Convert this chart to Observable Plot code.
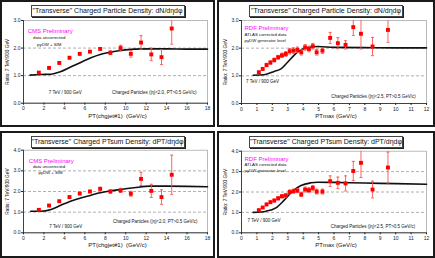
<!DOCTYPE html>
<html><head><meta charset="utf-8">
<script src="https://cdn.jsdelivr.net/npm/d3@7"></script>
<script src="https://cdn.jsdelivr.net/npm/@observablehq/plot@0.6"></script>
<style>
body{margin:0;background:#fff;font-family:"Liberation Sans",Arial,sans-serif;}
#root{position:relative;width:435px;height:258px;overflow:hidden;background:#fff;}
.panel{position:absolute;box-sizing:border-box;border:2px solid #1a1a1a;background:#fff;overflow:hidden;}
.panel svg{position:absolute;left:0;top:0;}
.title{position:absolute;box-sizing:border-box;height:12px;border:1px solid #444;box-shadow:1px 1px 0 #222;background:#fff;font-size:7px;line-height:10px;text-align:center;white-space:nowrap;color:#111;}
</style></head><body><div id="root"></div>
<script>
// ---------- data ----------
const cmsX = [1.5,2.5,3.5,4.5,5.5,6.5,7.5,8.5,9.5,10.5,11.5,12.5,13.5,14.5];
const p1Y   = [1.11,1.28,1.46,1.65,1.79,1.87,1.97,1.83,2.00,1.79,2.20,1.77,1.67,2.71];
const p1Err = [0.03,0.03,0.03,0.04,0.04,0.04,0.05,0.07,0.10,0.12,0.25,0.23,0.27,0.57];
const p1CurveX = [0.65,1.7,2.7,3.6,4.6,5.6,6.6,7.5,8.5,9.5,10.8,12.4,14,16,18];
const p1CurveY = [1.02,1.04,1.05,1.14,1.31,1.48,1.65,1.77,1.85,1.91,1.96,1.97,1.97,1.96,1.96];

const p3Y   = [1.11,1.32,1.53,1.73,1.90,2.00,2.13,2.00,2.05,1.89,2.61,2.03,1.73,2.81];
const p3Err = [0.04,0.04,0.04,0.05,0.05,0.06,0.07,0.08,0.10,0.12,0.32,0.32,0.35,0.95];
const p3CurveX = [0.7,1.7,2.7,3.6,4.6,5.6,6.6,7.5,8.5,9.5,10.8,12.4,14,16,18];
const p3CurveY = [1.04,1.04,1.13,1.32,1.53,1.69,1.82,1.94,2.03,2.10,2.18,2.26,2.26,2.25,2.23];

const rdfX = [1.125,1.375,1.625,1.875,2.125,2.375,2.625,2.875,3.125,3.375,3.625,3.875,4.125,4.375,4.625,4.875,5.25,5.75,6.25,6.75,7.25,7.75,8.5,9.5];
const p2Y   = [1.13,1.25,1.39,1.48,1.57,1.67,1.74,1.79,1.89,1.91,1.94,1.85,2.03,1.97,2.07,1.85,1.91,2.37,2.18,2.12,2.76,2.52,2.06,2.66];
const p2Err = [0.04,0.05,0.06,0.06,0.07,0.07,0.08,0.09,0.10,0.10,0.10,0.10,0.10,0.10,0.10,0.10,0.10,0.20,0.20,0.15,0.30,0.55,0.33,0.45];
const p2CurveX = [0.76,1.47,2.12,2.56,2.99,3.42,3.86,4.29,4.94,6,8,10,12];
const p2CurveY = [1.02,1.04,1.16,1.25,1.49,1.75,1.94,2.02,2.06,2.03,2.02,2.01,2.01];

const p4Y   = [1.11,1.24,1.39,1.50,1.58,1.69,1.79,1.83,2.00,2.04,2.07,1.88,2.12,2.09,2.20,2.02,2.02,2.53,2.45,2.42,3.03,3.43,2.12,3.20];
const p4Err = [0.04,0.05,0.06,0.06,0.07,0.08,0.08,0.09,0.10,0.10,0.10,0.10,0.12,0.12,0.12,0.12,0.12,0.26,0.28,0.37,0.47,0.72,0.41,0.76];
const p4CurveX = [0.76,1.6,2.23,2.77,3.31,3.86,4.5,4.94,6,8,10,12];
const p4CurveY = [1.00,1.06,1.22,1.60,2.04,2.32,2.45,2.48,2.47,2.44,2.41,2.38];

const cmsXTicks = [0,2,4,6,8,10,12,14,16,18];
const rdfXTicks = [0,1,2,3,4,5,6,7,8,9,10,11,12];
const yTicks3 = [0,1,2,3];
const yTicks4 = [0,1,2,3,4];
const grid3 = [1,2];
const grid4 = [1,2,3];

const titleDensity = "\"Transverse\" Charged Particle Density: dN/dηdφ";
const titlePTsum = "\"Transverse\" Charged PTsum Density: dPT/dηdφ";
const yLabel = "Ratio: 7 TeV/900 GeV";
const xLabelCMS = "PT(chgjet#1)  (GeV/c)";
const xLabelRDF = "PTmax (GeV/c)";
const cmsNotes = ["CMS Preliminary", "data uncorrected", "pyDW + SIM"];
const rdfNotes = ["RDF Preliminary", "ATLAS corrected data", "pyDW generator level"];
const energyNote = "7 TeV / 900 GeV";
const cutsCMS = "Charged Particles (|η|<2.0, PT>0.5 GeV/c)";
const cutsRDF = "Charged Particles (|η|<2.5, PT>0.5 GeV/c)";

// ---------- layout ----------
const panels = [
  {left:0, top:0, w:215, h:127, cw:211, ch:123, ml:21, mr:6, mt:18, mb:22.3,
   x:cmsX, y:p1Y, err:p1Err, cx:p1CurveX, cy:p1CurveY, xDomain:[0,18], yDomain:[0,3],
   xTicks:cmsXTicks, yTicks:yTicks3, grid:grid3, title:titleDensity, xLabel:xLabelCMS, cms:true,
   notePos:[[26.7,8],[25.7,15],[25.7,22]], energyPos:[41.7,70.7], cutsPos:[130.7,70.7], cuts:cutsCMS},
  {left:217, top:0, w:218, h:127, cw:214, ch:123, ml:22, mr:7, mt:18, mb:22,
   x:rdfX, y:p2Y, err:p2Err, cx:p2CurveX, cy:p2CurveY, xDomain:[0,12], yDomain:[0,3],
   xTicks:rdfXTicks, yTicks:yTicks3, grid:grid3, title:titleDensity, xLabel:xLabelRDF, cms:false,
   notePos:[[3,5],[3,12],[3,18]], energyPos:[21,59], cutsPos:[132,74], cuts:cutsRDF},
  {left:0, top:131, w:215, h:127, cw:211, ch:123, ml:21, mr:6, mt:16.7, mb:23.7,
   x:cmsX, y:p3Y, err:p3Err, cx:p3CurveX, cy:p3CurveY, xDomain:[0,18], yDomain:[0,4],
   xTicks:cmsXTicks, yTicks:yTicks4, grid:grid4, title:titlePTsum, xLabel:xLabelCMS, cms:true,
   notePos:[[27.8,8.3],[25.5,14.3],[27,20.3]], energyPos:[42.3,74.3], cutsPos:[131.8,69.3], cuts:cutsCMS},
  {left:217, top:131, w:218, h:127, cw:214, ch:123, ml:22, mr:7, mt:17.7, mb:23.7,
   x:rdfX, y:p4Y, err:p4Err, cx:p4CurveX, cy:p4CurveY, xDomain:[0,12], yDomain:[0,4],
   xTicks:rdfXTicks, yTicks:yTicks4, grid:grid4, title:titlePTsum, xLabel:xLabelRDF, cms:false,
   notePos:[[3,5.3],[3,11.3],[3,17.3]], energyPos:[22.5,67.3], cutsPos:[131.5,73.3], cuts:cutsRDF}
];

const capSymbol = {draw(ctx, size){ const w = Math.sqrt(size/Math.PI)*1.5; ctx.moveTo(-w,0); ctx.lineTo(w,0); }};
const errColor = "#ff5050";
const font = "'Liberation Sans', Arial, sans-serif";

const root = document.getElementById("root");
for (const p of panels) {
  const pts = p.x.map((x,i) => ({x, y:p.y[i], lo:p.y[i]-p.err[i], hi:p.y[i]+p.err[i]}));
  const curve = p.cx.map((x,i) => ({x, y:p.cy[i]}));
  const notes = p.cms ? cmsNotes : rdfNotes;
  const noteMarks = notes.map((t,i) => Plot.text([t], {
    text: d => d, frameAnchor:"top-left", dx:p.notePos[i][0], dy:p.notePos[i][1],
    textAnchor: p.cms ? "middle" : "start",
    fontSize: i === 0 ? 6 : 4.3, fill: i === 0 ? "#ff00ff" : "#111"
  }));
  const svg = Plot.plot({
    width: p.cw, height: p.ch,
    marginLeft: p.ml, marginRight: p.mr, marginTop: p.mt, marginBottom: p.mb,
    style: {fontFamily: font, fontSize: "5px", background: "transparent", color: "#222", overflow: "visible"},
    x: {domain: p.xDomain, label: null},
    y: {domain: p.yDomain, label: null},
    marks: [
      Plot.ruleY(p.grid, {stroke:"#9a9a9a", strokeDasharray:"3,2", strokeWidth:0.8}),
      Plot.frame({stroke:"#aaa", strokeWidth:0.8}),
      Plot.ruleX([p.xDomain[0]], {stroke:"#333", strokeWidth:0.9}),
      Plot.ruleY([p.yDomain[0]], {stroke:"#333", strokeWidth:0.9}),
      Plot.axisY({ticks: p.yTicks, tickFormat: d3.format(".1f"), tickSize: 2, tickPadding: 1, fontSize: 5, label: null}),
      Plot.axisX({ticks: p.xTicks, tickFormat: d => String(d), tickSize: 2, tickPadding: 1.5, fontSize: 5, label: null}),
      Plot.line(curve, {x:"x", y:"y", curve:"monotone-x", stroke:"#111", strokeWidth:1.6}),
      Plot.ruleX(pts, {x:"x", y1:"lo", y2:"hi", stroke:errColor, strokeWidth:0.9, clip:true}),
      Plot.dot(pts, {x:"x", y:"hi", symbol:capSymbol, r:1, stroke:errColor, strokeWidth:0.9, clip:true}),
      Plot.dot(pts, {x:"x", y:"lo", symbol:capSymbol, r:1, stroke:errColor, strokeWidth:0.9, clip:true}),
      Plot.dot(pts, {x:"x", y:"y", symbol:"square", r:2.2, fill:"#ff0000", stroke:"none"}),
      ...noteMarks,
      Plot.text([energyNote], {text: d => d, frameAnchor:"top-left", textAnchor:"middle", dx:p.energyPos[0], dy:p.energyPos[1], fontSize:4.5, fill:"#111"}),
      Plot.text([p.cuts], {text: d => d, frameAnchor:"top-left", textAnchor:"middle", dx:p.cutsPos[0], dy:p.cutsPos[1], fontSize:4.5, fill:"#111"}),
      Plot.text([yLabel], {text: d => d, frameAnchor:"left", textAnchor:"middle", rotate:-90, dx:-16, fontSize:4.8, fill:"#111"}),
      Plot.text([p.xLabel], {text: d => d, frameAnchor:"bottom", textAnchor:"middle", dx:2, dy:14.3, fontSize:6, fill:"#111"})
    ]
  });
  const div = document.createElement("div");
  div.className = "panel";
  Object.assign(div.style, {left:p.left+"px", top:p.top+"px", width:p.w+"px", height:p.h+"px"});
  div.appendChild(svg);
  const t = document.createElement("div");
  t.className = "title";
  t.textContent = p.title;
  Object.assign(t.style, {left:(p.cw/2 - 77)+"px", top:"3px", width:"154px"});
  div.appendChild(t);
  root.appendChild(div);
}
</script></body></html>
